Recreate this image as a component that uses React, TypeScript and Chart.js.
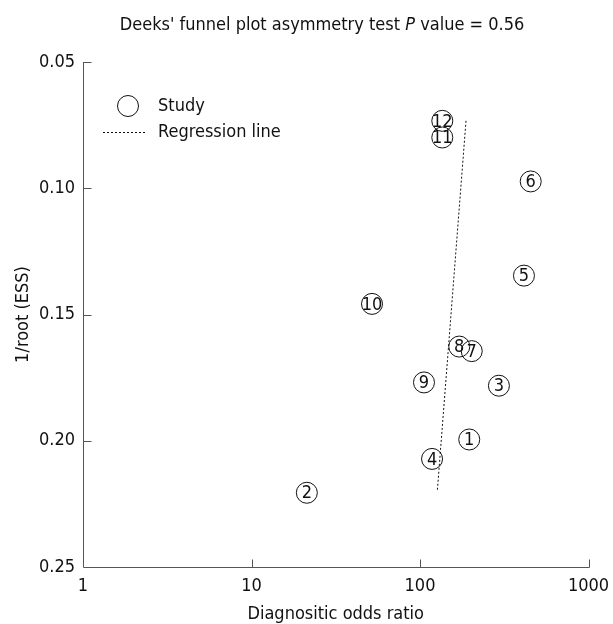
import React, { useEffect, useRef } from "react";
import { Chart, registerables } from "chart.js";

Chart.register(...registerables);

const studyLabels = ["1", "2", "3", "4", "5", "6", "7", "8", "9", "10", "11", "12"];
const diagnosticOddsRatio = [196, 21.3, 294, 117.9, 414, 454, 202.8, 171, 105.6, 51.9, 135.6, 135.6];
const invRootEss = [0.1995, 0.2206, 0.1782, 0.2072, 0.1346, 0.0973, 0.1645, 0.1627, 0.1769, 0.1458, 0.0799, 0.0733];

const regressionX = [187.5, 126.7];
const regressionY = [0.0733, 0.22];

const xTickValues = [1, 10, 100, 1000];
const yTickValues = [0.05, 0.1, 0.15, 0.2, 0.25];

const titleMain = "Deeks' funnel plot asymmetry test ";
const titleItalic = "P";
const titleEnd = " value = 0.56";
const xAxisTitle = "Diagnositic odds ratio";
const yAxisTitle = "1/root (ESS)";
const legendStudy = "Study";
const legendRegression = "Regression line";

const FONT = "'DejaVu Sans Condensed', 'DejaVu Sans', sans-serif";
const TEXT = "#111";
const AXIS = "#555";

const customPlugin = {
  id: "customDraw",
  afterDatasetsDraw(chart: any) {
    const ctx = chart.ctx as CanvasRenderingContext2D;
    const meta = chart.getDatasetMeta(0);
    ctx.save();
    ctx.fillStyle = TEXT;
    ctx.font = `18px ${FONT}`;
    ctx.textAlign = "center";
    ctx.textBaseline = "middle";
    meta.data.forEach((pt: any, i: number) => {
      ctx.fillText(studyLabels[i], pt.x, pt.y + 1);
    });
    ctx.restore();
  },
  afterDraw(chart: any) {
    const ctx = chart.ctx as CanvasRenderingContext2D;
    const { left, right, top, bottom } = chart.chartArea;
    const xs = chart.scales.x;
    const ys = chart.scales.y;
    ctx.save();
    ctx.strokeStyle = AXIS;
    ctx.lineWidth = 1;
    const L = Math.round(left) + 0.5;
    const B = Math.round(bottom) + 0.5;
    ctx.beginPath();
    ctx.moveTo(L, Math.round(top));
    ctx.lineTo(L, B);
    ctx.lineTo(Math.round(right) + 0.5, B);
    ctx.stroke();
    ctx.beginPath();
    xTickValues.forEach((v) => {
      if (v === 1) return;
      const px = Math.round(xs.getPixelForValue(v)) + 0.5;
      ctx.moveTo(px, B);
      ctx.lineTo(px, B - 8);
    });
    yTickValues.forEach((v) => {
      if (v === 0.25) return;
      const py = Math.round(ys.getPixelForValue(v)) + 0.5;
      ctx.moveTo(L, py);
      ctx.lineTo(L + 8, py);
    });
    ctx.stroke();

    ctx.fillStyle = TEXT;
    ctx.textBaseline = "middle";
    ctx.textAlign = "left";
    ctx.font = `18px ${FONT}`;
    const w1 = ctx.measureText(titleMain).width;
    const w3 = ctx.measureText(titleEnd).width;
    ctx.font = `italic 18px ${FONT}`;
    const w2 = ctx.measureText(titleItalic).width;
    const total = w1 + w2 + w3;
    let tx = 322 - total / 2;
    const ty = 25;
    ctx.font = `18px ${FONT}`;
    ctx.fillText(titleMain, tx, ty);
    tx += w1;
    ctx.font = `italic 18px ${FONT}`;
    ctx.fillText(titleItalic, tx, ty);
    tx += w2;
    ctx.font = `18px ${FONT}`;
    ctx.fillText(titleEnd, tx, ty);

    ctx.textAlign = "center";
    ctx.fillText(xAxisTitle, (left + right) / 2, 614);
    ctx.save();
    ctx.translate(23, (top + bottom) / 2);
    ctx.rotate(-Math.PI / 2);
    ctx.fillText(yAxisTitle, 0, 0);
    ctx.restore();

    ctx.strokeStyle = "#111";
    ctx.lineWidth = 1;
    ctx.beginPath();
    ctx.arc(128, 106, 10.5, 0, Math.PI * 2);
    ctx.stroke();
    ctx.setLineDash([2, 2]);
    ctx.beginPath();
    ctx.moveTo(103, 132.5);
    ctx.lineTo(147, 132.5);
    ctx.stroke();
    ctx.setLineDash([]);
    ctx.textAlign = "left";
    ctx.fillText(legendStudy, 158, 106);
    ctx.fillText(legendRegression, 158, 132);
    ctx.restore();
  },
};

export default function App() {
  const canvasRef = useRef<HTMLCanvasElement | null>(null);

  useEffect(() => {
    if (!canvasRef.current) return;
    const points = diagnosticOddsRatio.map((x, i) => ({ x, y: invRootEss[i] }));
    const regression = regressionX.map((x, i) => ({ x, y: regressionY[i] }));
    const chart = new Chart(canvasRef.current, {
      type: "scatter",
      data: {
        datasets: [
          {
            label: legendStudy,
            data: points,
            pointRadius: 10.5,
            pointHoverRadius: 10.5,
            pointBorderWidth: 1,
            pointBorderColor: "#111",
            pointBackgroundColor: "rgba(0,0,0,0)",
          },
          {
            label: legendRegression,
            data: regression,
            showLine: true,
            borderColor: "#111",
            borderWidth: 1,
            borderDash: [2, 2],
            pointRadius: 0,
          } as any,
        ],
      },
      plugins: [customPlugin],
      options: {
        animation: false,
        responsive: true,
        maintainAspectRatio: false,
        events: [],
        layout: { padding: { top: 62, left: 0, right: 24.5, bottom: 0 } },
        plugins: {
          legend: { display: false },
          title: { display: false },
          tooltip: { enabled: false },
        },
        scales: {
          x: {
            type: "logarithmic",
            min: 1,
            max: 1000,
            grid: { display: false, drawTicks: false },
            border: { display: false },
            afterBuildTicks: (scale: any) => {
              scale.ticks = xTickValues.map((v) => ({ value: v, major: true }));
            },
            afterFit: (scale: any) => {
              scale.height = 57;
              scale.paddingLeft = 0;
              scale.paddingRight = 0;
            },
            ticks: {
              autoSkip: false,
              maxRotation: 0,
              padding: 9,
              color: TEXT,
              font: { family: FONT, size: 18 },
              callback: (v: any) => String(v),
            },
          },
          y: {
            type: "linear",
            reverse: true,
            min: 0.05,
            max: 0.25,
            grid: { display: false, drawTicks: false },
            border: { display: false },
            afterBuildTicks: (scale: any) => {
              scale.ticks = yTickValues.map((v) => ({ value: v }));
            },
            afterFit: (scale: any) => {
              scale.width = 83;
              scale.paddingTop = 0;
              scale.paddingBottom = 0;
            },
            ticks: {
              padding: 8,
              color: TEXT,
              font: { family: FONT, size: 18 },
              callback: (v: any) => Number(v).toFixed(2),
            },
          },
        },
      },
    });
    return () => chart.destroy();
  }, []);

  return (
    <div style={{ position: "fixed", left: 0, top: 0, width: 613, height: 624, background: "#fff" }}>
      <canvas ref={canvasRef} />
    </div>
  );
}
